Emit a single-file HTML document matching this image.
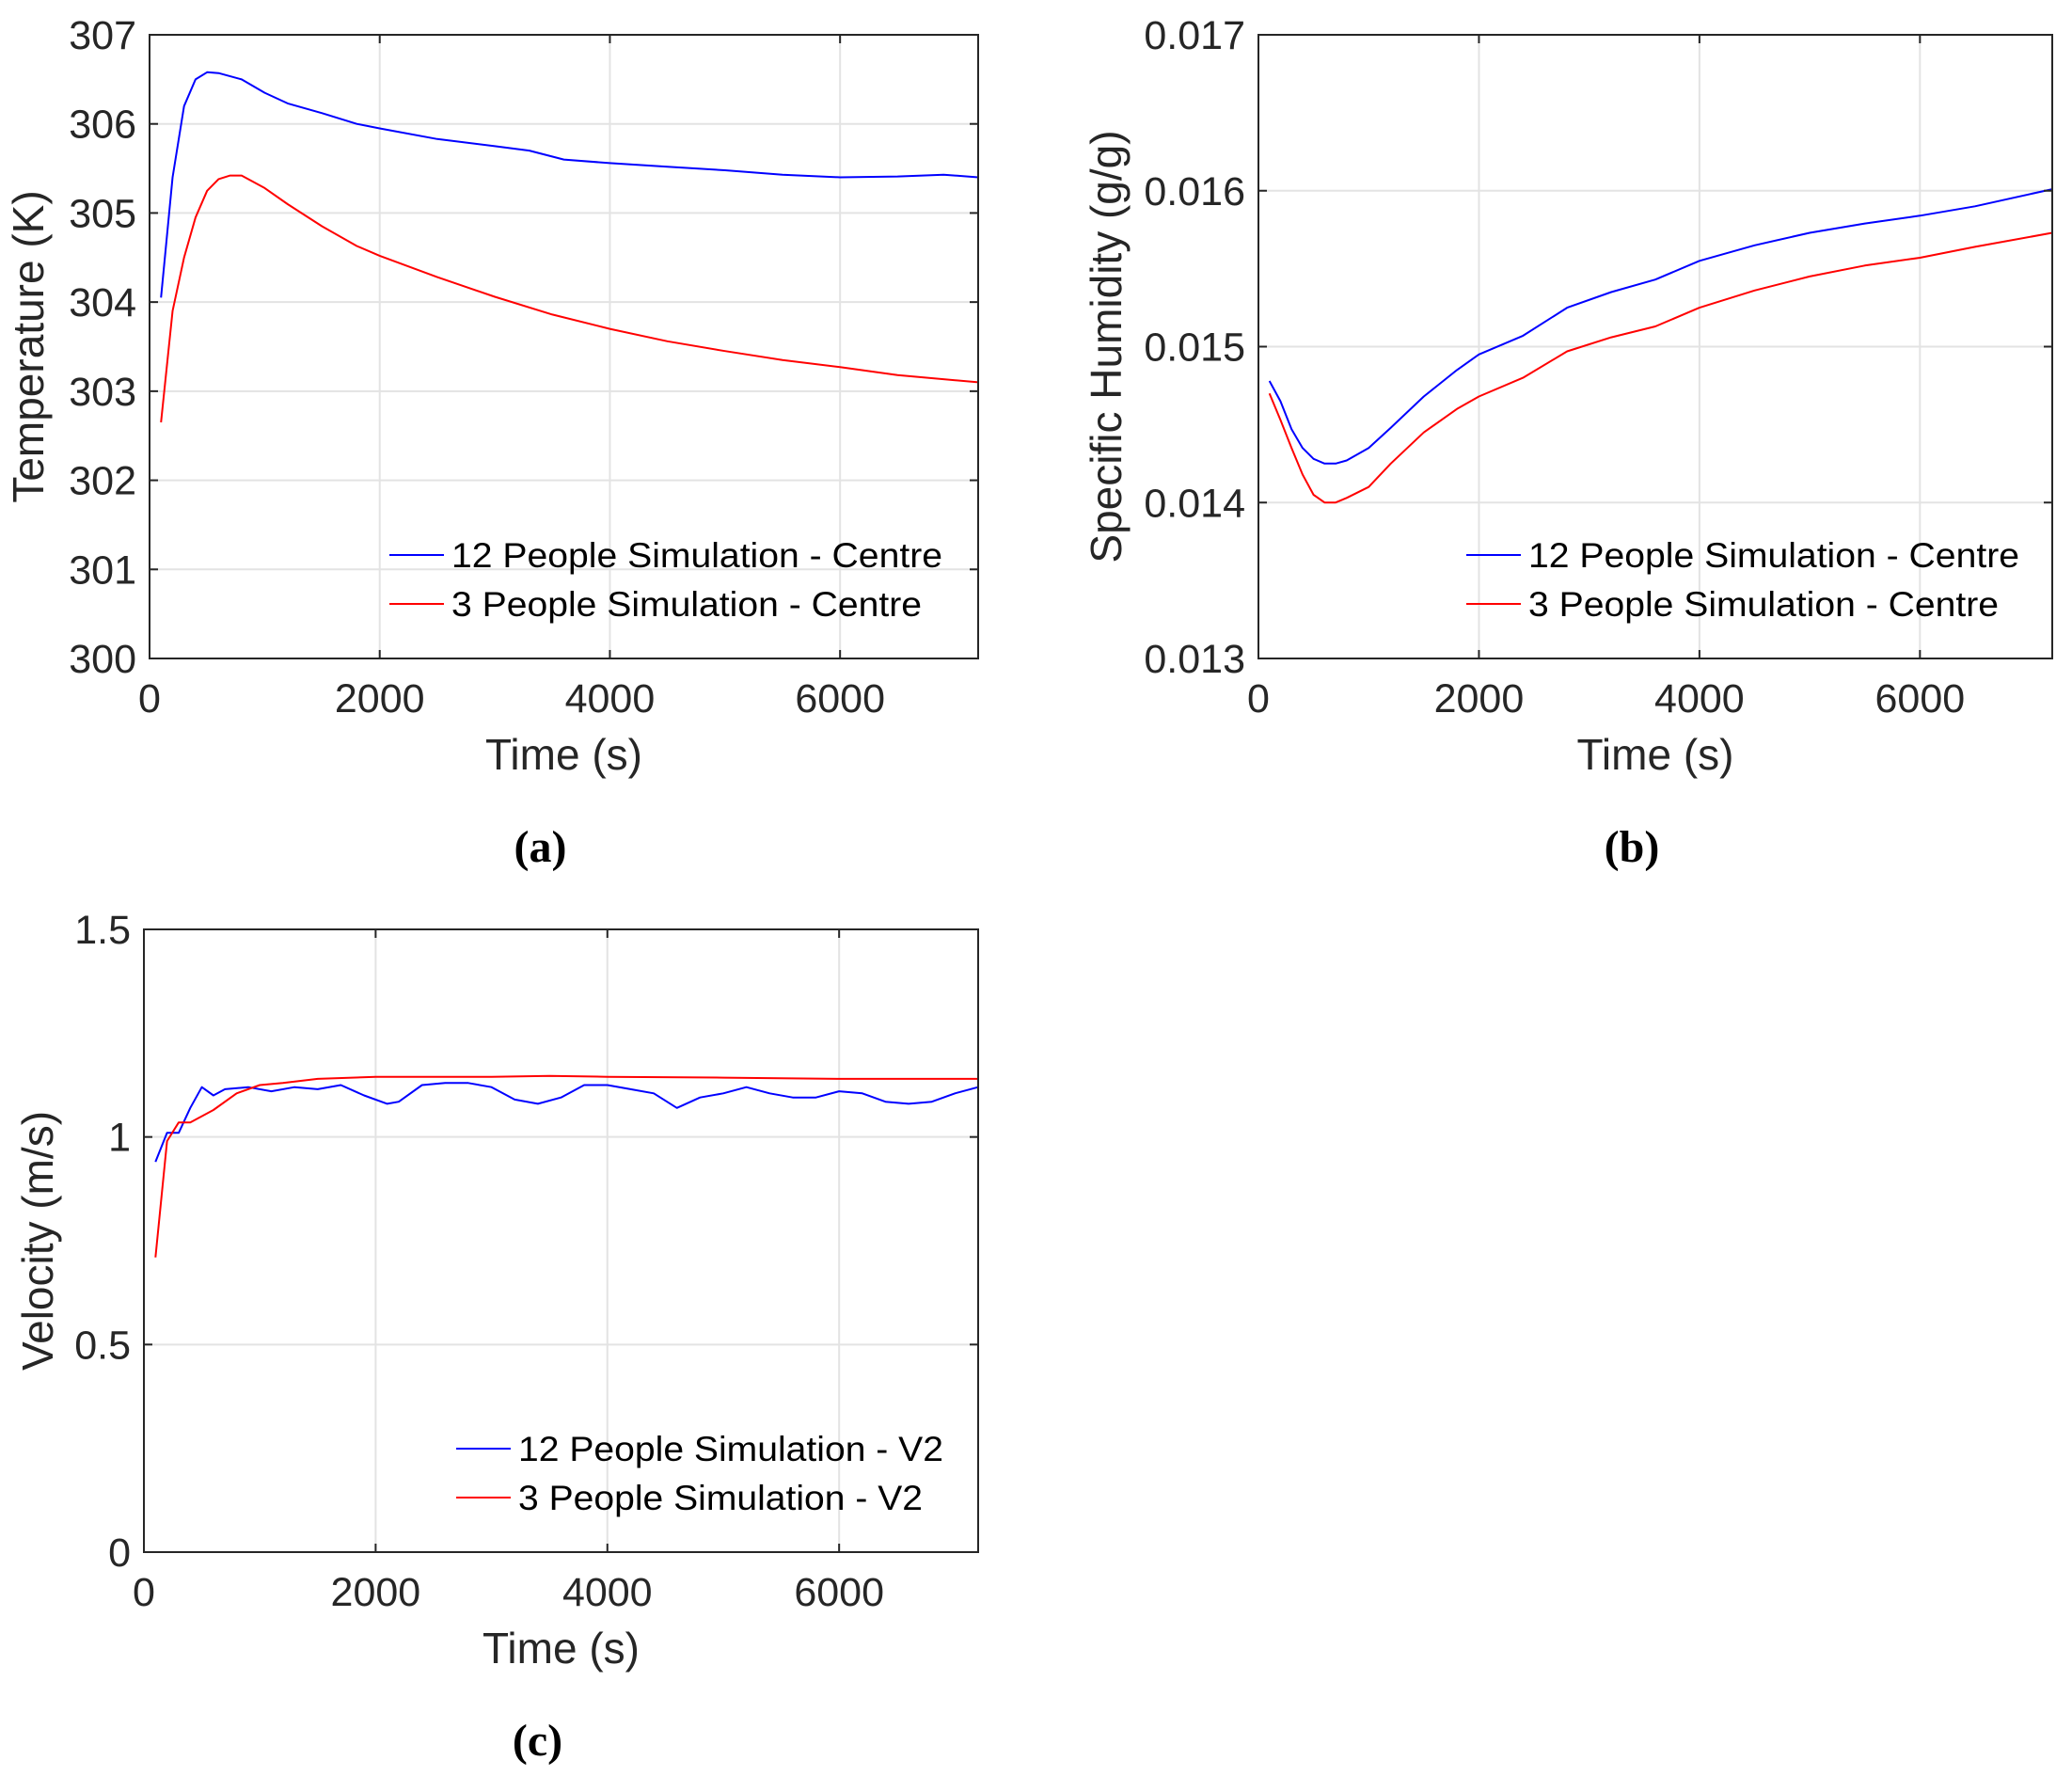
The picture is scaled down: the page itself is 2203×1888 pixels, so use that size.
<!DOCTYPE html>
<html><head><meta charset="utf-8"><style>
html,body{margin:0;padding:0;background:#fff;}
svg{display:block;font-family:"Liberation Sans",Arial,sans-serif;}
</style></head><body>
<svg id="fig" width="2203" height="1888" viewBox="0 0 2203 1888" xmlns="http://www.w3.org/2000/svg"></svg>
<script>
// Panel (a) data
const aTime = [100,200,300,400,500,600,800,1000,1200,1500,1800,2000,2500,3000,3300,3600,4000,4500,5000,5500,6000,6500,6900,7200];
const aBlue = [304.05,305.4,306.2,306.5,306.58,306.57,306.5,306.35,306.23,306.12,306.0,305.95,305.83,305.75,305.7,305.6,305.56,305.52,305.48,305.43,305.4,305.41,305.43,305.4];
const aRedTime = [100,200,300,400,500,600,700,800,1000,1200,1500,1800,2000,2500,3000,3500,4000,4500,5000,5500,6000,6500,7200];
const aRed = [302.65,303.9,304.5,304.95,305.25,305.38,305.42,305.42,305.28,305.1,304.85,304.63,304.52,304.28,304.06,303.86,303.7,303.56,303.45,303.35,303.27,303.18,303.1];
const aYTicks = [300,301,302,303,304,305,306,307];
// Panel (b) data
const bTime = [100,200,300,400,500,600,700,800,1000,1200,1500,1800,2000,2400,2800,3200,3600,4000,4500,5000,5500,6000,6500,7200];
const bBlue = [0.01478,0.01465,0.01447,0.01435,0.01428,0.01425,0.01425,0.01427,0.01435,0.01448,0.01468,0.01485,0.01495,0.01507,0.01525,0.01535,0.01543,0.01555,0.01565,0.01573,0.01579,0.01584,0.0159,0.01601];
const bRed = [0.0147,0.01453,0.01435,0.01418,0.01405,0.014,0.014,0.01403,0.0141,0.01425,0.01445,0.0146,0.01468,0.0148,0.01497,0.01506,0.01513,0.01525,0.01536,0.01545,0.01552,0.01557,0.01564,0.01573];
const bYTicks = [0.013,0.014,0.015,0.016,0.017];
const bYLabels = ["0.013","0.014","0.015","0.016","0.017"];
// Panel (c) data
const cBlueTime = [100,200,300,400,500,600,700,900,1100,1300,1500,1700,1900,2100,2200,2400,2600,2800,3000,3200,3400,3600,3800,4000,4200,4400,4600,4800,5000,5200,5400,5600,5800,6000,6200,6400,6600,6800,7000,7200];
const cBlue = [0.94,1.01,1.01,1.07,1.12,1.1,1.115,1.12,1.11,1.12,1.115,1.125,1.1,1.08,1.085,1.125,1.13,1.13,1.12,1.09,1.08,1.095,1.125,1.125,1.115,1.105,1.07,1.095,1.105,1.12,1.105,1.095,1.095,1.11,1.105,1.085,1.08,1.085,1.105,1.12];
const cRedTime = [100,200,300,400,600,800,1000,1200,1500,2000,2500,3000,3500,4000,5000,6000,6500,7200];
const cRed = [0.71,0.99,1.035,1.035,1.065,1.105,1.125,1.13,1.14,1.145,1.145,1.145,1.147,1.145,1.143,1.14,1.14,1.14];
const cYTicks = [0,0.5,1,1.5];
const cYLabels = ["0","0.5","1","1.5"];
const xTicks = [0,2000,4000,6000];
const xTickLabels = ["0","2000","4000","6000"];

const NS = "http://www.w3.org/2000/svg";
const svg = document.getElementById('fig');
function mk(tag, attrs, parent, text){
  const e = document.createElementNS(NS, tag);
  for (const k in attrs) e.setAttribute(k, attrs[k]);
  if (text !== undefined) e.textContent = text;
  (parent||svg).appendChild(e);
  return e;
}

function panel(o){
  const g = mk('g', {});
  
  
  const sx = v => o.L + (v - 0) / 7200 * (o.R - o.L);
  const sy = v => o.B - (v - o.ymin) / (o.ymax - o.ymin) * (o.B - o.T);
  xTicks.forEach(t => { if (t>0){ const l = mk('line',{x1:sx(t),x2:sx(t),y1:o.T,y2:o.B,stroke:'#e3e3e3','stroke-width':2},g);
      }});
  o.yt.forEach(t => { const l = mk('line',{x1:o.L,x2:o.R,y1:sy(t),y2:sy(t),stroke:'#e3e3e3','stroke-width':2},g);
      });
  o.series.forEach(s => {
    const pts = s.x.map((x,i)=> sx(x).toFixed(1)+','+sy(s.y[i]).toFixed(1)).join(' ');
    const p = mk('polyline',{points:pts,fill:'none',stroke:s.c,'stroke-width':2,'stroke-linejoin':'round'},g);
    
    
  });
  const box = mk('rect',{x:o.L,y:o.T,width:o.R-o.L,height:o.B-o.T,fill:'none',stroke:'#262626','stroke-width':2},g);
   
  xTicks.forEach((t,i) => {
    mk('line',{x1:sx(t),x2:sx(t),y1:o.B,y2:o.B-9,stroke:'#262626','stroke-width':2},g);
    mk('line',{x1:sx(t),x2:sx(t),y1:o.T,y2:o.T+9,stroke:'#262626','stroke-width':2},g);
    const tx = mk('text',{x:sx(t),y:o.B+57,'text-anchor':'middle','font-size':43,fill:'#262626'},g,xTickLabels[i]);
     
  });
  o.yt.forEach((t,i) => {
    mk('line',{x1:o.L,x2:o.L+9,y1:sy(t),y2:sy(t),stroke:'#262626','stroke-width':2},g);
    mk('line',{x1:o.R,x2:o.R-9,y1:sy(t),y2:sy(t),stroke:'#262626','stroke-width':2},g);
    const tx = mk('text',{x:o.L-14,y:sy(t)+15,'text-anchor':'end','font-size':43,fill:'#262626'},g,o.yl[i]);
     
  });
  const xt = mk('text',{x:(o.L+o.R)/2,y:o.B+118,'text-anchor':'middle','font-size':46,fill:'#262626'},g,'Time (s)');
   
  const yc = (o.T+o.B)/2;
  const yt = mk('text',{x:o.ytx,y:yc,'text-anchor':'middle','font-size':46,fill:'#262626',transform:`rotate(-90 ${o.ytx} ${yc})`},g,o.ytitle);
   
  o.series.forEach((s,i) => {
    const y = o.legY + i*52;
    const le = mk('g',{},g);
     
    mk('line',{x1:o.legX,x2:o.legX+58,y1:y,y2:y,stroke:s.c,'stroke-width':2},le);
    mk('text',{x:o.legX+66,y:y+13,'font-size':37,fill:'#000',textLength:s.lw,lengthAdjust:'spacingAndGlyphs'},le,s.label);
  });
  const pl = mk('text',{x:(o.L+o.R)/2-25,y:o.B+216,'text-anchor':'middle','font-size':48,'font-weight':'bold','font-family':'"Liberation Serif",serif',fill:'#000'},g,o.plabel);
   
}

panel({name:'temperature-chart',L:159,R:1040,T:37,B:700,ymin:300,ymax:307,yt:aYTicks,yl:aYTicks.map(String),
  ytitle:'Temperature (K)',ytx:46,legX:414,legY:590,plabel:'(a)',
  series:[{name:'blue-line-12-people',x:aTime,y:aBlue,c:'#0000ff',label:'12 People Simulation - Centre',lw:522},
          {name:'red-line-3-people',x:aRedTime,y:aRed,c:'#ff0000',label:'3 People Simulation - Centre',lw:500}]});
panel({name:'humidity-chart',L:1338,R:2182,T:37,B:700,ymin:0.013,ymax:0.017,yt:bYTicks,yl:bYLabels,
  ytitle:'Specific Humidity (g/g)',ytx:1192,legX:1559,legY:590,plabel:'(b)',
  series:[{name:'blue-line-12-people',x:bTime,y:bBlue,c:'#0000ff',label:'12 People Simulation - Centre',lw:522},
          {name:'red-line-3-people',x:bTime,y:bRed,c:'#ff0000',label:'3 People Simulation - Centre',lw:500}]});
panel({name:'velocity-chart',L:153,R:1040,T:988,B:1650,ymin:0,ymax:1.5,yt:cYTicks,yl:cYLabels,
  ytitle:'Velocity (m/s)',ytx:56,legX:485,legY:1540,plabel:'(c)',
  series:[{name:'blue-line-12-people',x:cBlueTime,y:cBlue,c:'#0000ff',label:'12 People Simulation - V2',lw:452},
          {name:'red-line-3-people',x:cRedTime,y:cRed,c:'#ff0000',label:'3 People Simulation - V2',lw:430}]});
</script>
</body></html>
